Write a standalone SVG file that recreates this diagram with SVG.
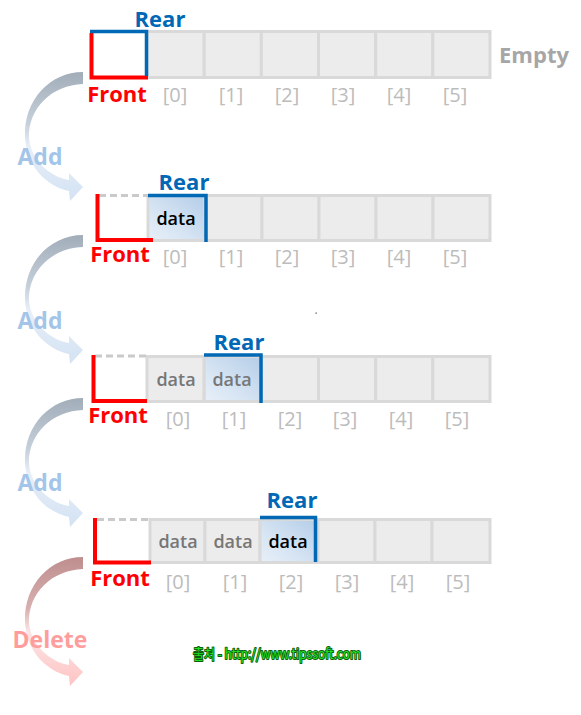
<svg xmlns="http://www.w3.org/2000/svg" width="581" height="715" viewBox="0 0 581 715">
<defs>
<linearGradient id="hlg" x1="1" y1="0" x2="0" y2="1">
<stop offset="0" stop-color="#b4cde8"/>
<stop offset="0.6" stop-color="#d6e4f3"/>
<stop offset="1" stop-color="#e8f0f9"/>
</linearGradient>
<linearGradient id="blueArc" x1="0" y1="0" x2="0" y2="1">
<stop offset="0" stop-color="#a1adb9"/>
<stop offset="0.4" stop-color="#c6d0db"/>
<stop offset="0.58" stop-color="#e8eff8"/>
<stop offset="1" stop-color="#d3e2f3"/>
</linearGradient>
<linearGradient id="redArc" x1="0" y1="0" x2="0" y2="1">
<stop offset="0" stop-color="#bf8e8e"/>
<stop offset="0.4" stop-color="#d8b0b0"/>
<stop offset="0.58" stop-color="#fbe6e6"/>
<stop offset="1" stop-color="#ffc3c3"/>
</linearGradient>
<path id="arc" d="M83,72 C50,72 24,100 25,136 C26,166 46,186 69,191 L70,201 L83,187 L69,173 L69,180 C50,177 31,160 29,138 C28,108 52,85 83,84 Z"/>
</defs>
<style>
.cell{fill:#ececec;stroke:#d9d9d9;stroke-width:3}
.hl{fill:url(#hlg);stroke:#d9d9d9;stroke-width:3}
.red{fill:none;stroke:#ff0000;stroke-width:4}
.blue{fill:none;stroke:#0068b5;stroke-width:3.5}
.dash{fill:none;stroke:#cacaca;stroke-width:3;stroke-dasharray:7 4}
text{font-family:"Open Sans","Noto Sans","Liberation Sans",sans-serif;text-anchor:middle}
.idx{font-size:20px;fill:#bcbcbc}
.rear{font-size:22px;font-weight:bold;fill:#0068b5}
.front{font-size:22px;font-weight:bold;fill:#ff0000}
.data{font-size:18px;font-weight:600;fill:#777777}
.dk{fill:#000000}
.lbl{font-size:23px;font-weight:bold}
</style>

<g id="connectors">
<use href="#arc" fill="url(#blueArc)"/>
<use href="#arc" fill="url(#blueArc)" transform="translate(0,163)"/>
<use href="#arc" fill="url(#blueArc)" transform="translate(0,326)"/>
<use href="#arc" fill="url(#redArc)" transform="translate(0,485)"/>
<text class="lbl" x="40" y="165" fill="#a3c5ea">Add</text>
<text class="lbl" x="40" y="329" fill="#a3c5ea">Add</text>
<text class="lbl" x="40" y="491" fill="#a3c5ea">Add</text>
<text class="lbl" x="50" y="648" fill="#ff9d9d">Delete</text>
</g>

<g id="row1">
<rect class="cell" x="147" y="31.5" width="57.2" height="46"/>
<rect class="cell" x="204.2" y="31.5" width="57.2" height="46"/>
<rect class="cell" x="261.3" y="31.5" width="57.2" height="46"/>
<rect class="cell" x="318.5" y="31.5" width="57.2" height="46"/>
<rect class="cell" x="375.7" y="31.5" width="57.2" height="46"/>
<rect class="cell" x="432.8" y="31.5" width="57.2" height="46"/>
<rect x="92" y="32" width="54" height="45" fill="#ffffff"/>
<path class="red" d="M91.5,33 V77.5 H148"/>
<path class="blue" d="M90,31.5 H146.5 V76"/>
<text class="rear" x="160" y="27">Rear</text>
<text class="front" x="117" y="102">Front</text>
<text class="lbl" x="534" y="63" fill="#a6a6a6" style="font-size:22px">Empty</text>
<text class="idx" x="175" y="102">[0]</text>
<text class="idx" x="231" y="102">[1]</text>
<text class="idx" x="287" y="102">[2]</text>
<text class="idx" x="343" y="102">[3]</text>
<text class="idx" x="399" y="102">[4]</text>
<text class="idx" x="455" y="102">[5]</text>
</g>

<g id="row2">
<rect class="hl" x="148" y="195.5" width="57" height="45"/>
<rect class="cell" x="205" y="195.5" width="57" height="45"/>
<rect class="cell" x="262" y="195.5" width="57" height="45"/>
<rect class="cell" x="319" y="195.5" width="57" height="45"/>
<rect class="cell" x="376" y="195.5" width="57" height="45"/>
<rect class="cell" x="433" y="195.5" width="57" height="45"/>
<path class="dash" d="M99,195.5 H148"/>
<path class="red" d="M97.5,194 V240 H153"/>
<path class="blue" d="M148,195.5 H206 V242"/>
<text class="data dk" x="176" y="225">data</text>
<text class="rear" x="184" y="190">Rear</text>
<text class="front" x="120" y="262">Front</text>
<text class="idx" x="175" y="264">[0]</text>
<text class="idx" x="231" y="264">[1]</text>
<text class="idx" x="287" y="264">[2]</text>
<text class="idx" x="343" y="264">[3]</text>
<text class="idx" x="399" y="264">[4]</text>
<text class="idx" x="455" y="264">[5]</text>
</g>

<g id="row3">
<rect class="cell" x="147" y="356.5" width="57.2" height="45"/>
<rect class="hl" x="204.2" y="356.5" width="57.2" height="45"/>
<rect class="cell" x="261.3" y="356.5" width="57.2" height="45"/>
<rect class="cell" x="318.5" y="356.5" width="57.2" height="45"/>
<rect class="cell" x="375.7" y="356.5" width="57.2" height="45"/>
<rect class="cell" x="432.8" y="356.5" width="57.2" height="45"/>
<path class="dash" d="M95,356 H147"/>
<path class="red" d="M93.5,355 V401 H147"/>
<path class="blue" d="M204,355 H261 V403"/>
<text class="data" x="176" y="386">data</text>
<text class="data" x="232" y="386">data</text>
<text class="rear" x="239" y="350">Rear</text>
<text class="front" x="118" y="423">Front</text>
<text class="idx" x="178" y="426">[0]</text>
<text class="idx" x="234" y="426">[1]</text>
<text class="idx" x="290" y="426">[2]</text>
<text class="idx" x="345" y="426">[3]</text>
<text class="idx" x="401" y="426">[4]</text>
<text class="idx" x="457" y="426">[5]</text>
</g>

<g id="row4">
<rect class="cell" x="150" y="519.5" width="55" height="43"/>
<rect class="cell" x="205" y="519.5" width="55" height="43"/>
<rect class="hl" x="260" y="519.5" width="57" height="43"/>
<rect class="cell" x="318" y="519.5" width="57" height="43"/>
<rect class="cell" x="375" y="519.5" width="57" height="43"/>
<rect class="cell" x="432" y="519.5" width="58" height="43"/>
<path class="dash" d="M97,519.5 H150"/>
<path class="red" d="M95,518 V562.5 H151"/>
<path class="blue" d="M260,517.5 H315.5 V562"/>
<text class="data" x="178" y="548">data</text>
<text class="data" x="233" y="548">data</text>
<text class="data dk" x="288" y="548">data</text>
<text class="rear" x="292" y="508">Rear</text>
<text class="front" x="120" y="586">Front</text>
<text class="idx" x="178" y="589">[0]</text>
<text class="idx" x="235" y="589">[1]</text>
<text class="idx" x="291" y="589">[2]</text>
<text class="idx" x="347" y="589">[3]</text>
<text class="idx" x="402" y="589">[4]</text>
<text class="idx" x="458" y="589">[5]</text>
</g>

<rect x="315.5" y="312.5" width="1.2" height="1.2" fill="#444444"/>

<text x="277" y="659" textLength="168" lengthAdjust="spacingAndGlyphs" style="font-family:'Noto Sans CJK KR','Noto Sans',sans-serif;font-size:14px;fill:#22e022;stroke:#0b5e0b;stroke-width:2;paint-order:stroke;stroke-linejoin:round">출처 - http://www.tipssoft.com</text>
</svg>
